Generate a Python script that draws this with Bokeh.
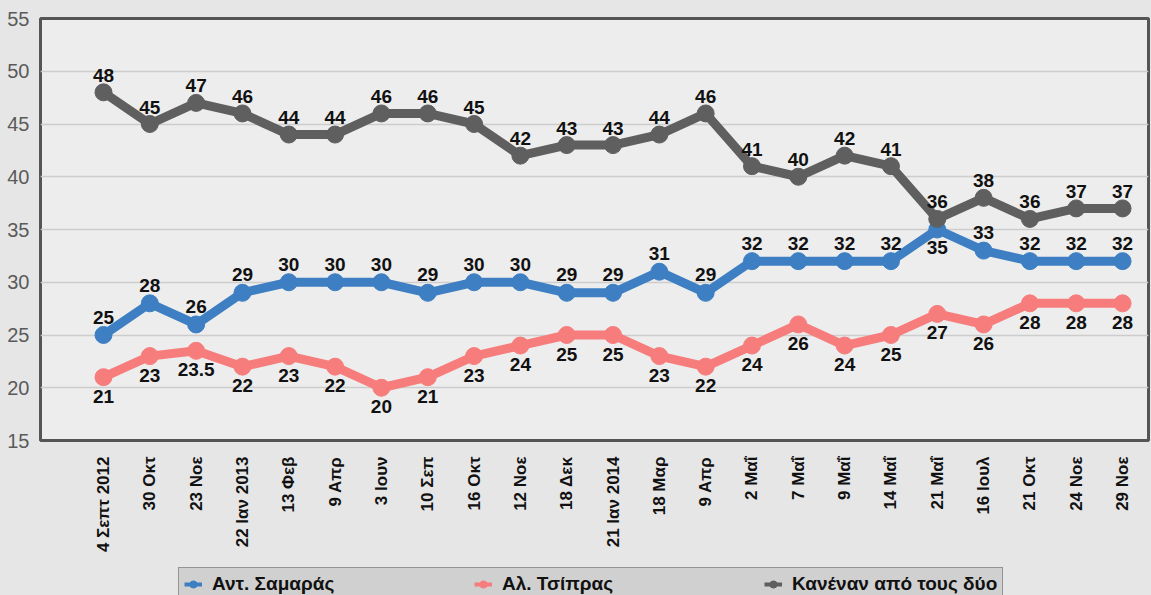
from bokeh.plotting import figure
from bokeh.layouts import column
from bokeh.models import (ColumnDataSource, Range1d, FixedTicker, Legend, LegendItem)
from bokeh.core.properties import value
from bokeh.embed import file_html
from bokeh.resources import INLINE
import math

categories = ["4 Σεπτ 2012", "30 Οκτ", "23 Νοε", "22 Ιαν 2013", "13 Φεβ", "9 Απρ",
              "3 Ιουν", "10 Σεπ", "16 Οκτ", "12 Νοε", "18 Δεκ", "21 Ιαν 2014",
              "18 Μαρ", "9 Απρ", "2 Μαΐ", "7 Μαΐ", "9 Μαΐ", "14 Μαΐ", "21 Μαΐ",
              "16 Ιουλ", "21 Οκτ", "24 Νοε", "29 Νοε"]
samaras = [25, 28, 26, 29, 30, 30, 30, 29, 30, 30, 29, 29, 31, 29, 32, 32, 32, 32, 35, 33, 32, 32, 32]
tsipras = [21, 23, 23.5, 22, 23, 22, 20, 21, 23, 24, 25, 25, 23, 22, 24, 26, 24, 25, 27, 26, 28, 28, 28]
kanenan = [48, 45, 47, 46, 44, 44, 46, 46, 45, 42, 43, 43, 44, 46, 41, 40, 42, 41, 36, 38, 36, 37, 37]
series_names = ["Αντ. Σαμαράς", "Αλ. Τσίπρας", "Κανέναν από τους δύο"]
y_ticks = [15, 20, 25, 30, 35, 40, 45, 50, 55]

FONT = value("Liberation Sans")
BG = "#e6e6e6"
xs = list(range(len(categories)))

p = figure(width=1151, height=555, output_backend="svg", toolbar_location=None,
           x_range=Range1d(-1.36, 22.56), y_range=Range1d(15, 55),
           min_border_left=40, min_border_top=18, min_border_right=3,
           min_border_bottom=112)
p.background_fill_color = "#ededed"
p.border_fill_color = BG
p.outline_line_color = "#555555"
p.outline_line_width = 3

p.xgrid.grid_line_color = None
p.ygrid.grid_line_color = "#cdcdcd"
p.ygrid.grid_line_width = 1.5

p.yaxis.ticker = FixedTicker(ticks=y_ticks)
p.yaxis.major_label_text_font = "Liberation Sans"
p.yaxis.major_label_text_font_size = "20px"
p.yaxis.major_label_text_color = "#5a5a5a"
p.yaxis.axis_line_color = None
p.yaxis.major_tick_line_color = None
p.yaxis.minor_tick_line_color = None
p.yaxis.major_label_standoff = 5

p.xaxis.ticker = FixedTicker(ticks=xs)
p.xaxis.major_label_overrides = {i: c for i, c in enumerate(categories)}
p.xaxis.major_label_orientation = math.pi / 2
p.xaxis.major_label_text_font = "Liberation Sans"
p.xaxis.major_label_text_font_style = "bold"
p.xaxis.major_label_text_font_size = "17px"
p.xaxis.major_label_text_color = "#111111"
p.xaxis.axis_line_color = None
p.xaxis.major_tick_line_color = None
p.xaxis.minor_tick_line_color = None
p.xaxis.major_label_standoff = 10

colors = ["#3d7fc2", "#f77d7d", "#5f5f5f"]
data = [samaras, tsipras, kanenan]

# label placement: blue above (below when the grey point is too close), red below, grey above
off_blue = [18 if abs(k - s) < 2 else -18 for s, k in zip(samaras, kanenan)]
off_red = [19] * len(xs)
off_grey = [-17] * len(xs)
offsets = [off_blue, off_red, off_grey]

srcs = []
for name, vals, col, offs in zip(series_names, data, colors, offsets):
    src = ColumnDataSource(dict(x=xs, y=vals, lbl=[f"{v:g}" for v in vals], off=offs))
    p.line("x", "y", source=src, line_color=col, line_width=9, line_join="round")
    p.scatter("x", "y", source=src, size=17, fill_color=col, line_color=col)
    srcs.append(src)

for src in srcs:
    p.text("x", "y", text="lbl", source=src, text_font=FONT, text_font_style="bold",
           text_font_size="19px", text_align="center", text_baseline="middle",
           y_offset="off", text_color="#111111")

# legend strip below the chart
p2 = figure(width=1151, height=40, output_backend="svg", toolbar_location=None,
            x_range=Range1d(0, 1), y_range=Range1d(0, 1),
            x_axis_location=None, y_axis_location=None,
            min_border_left=40, min_border_right=3, min_border_top=0, min_border_bottom=0)
p2.background_fill_color = BG
p2.border_fill_color = BG
p2.outline_line_color = None
p2.xgrid.grid_line_color = None
p2.ygrid.grid_line_color = None

items = []
for name, col in zip(series_names, colors):
    l = p2.line(x=[-10, -9], y=[-10, -10], line_color=col, line_width=4)
    c = p2.scatter(x=[-10], y=[-10], size=9, fill_color=col, line_color=col)
    items.append(LegendItem(label=name, renderers=[l, c]))

legend = Legend(items=items, orientation="horizontal", location=(138, -6))
legend.label_text_font = "Liberation Sans"
legend.label_text_font_style = "bold"
legend.label_text_font_size = "19px"
legend.label_text_color = "#111111"
legend.label_width = 205
legend.glyph_width = 18
legend.glyph_height = 18
legend.label_height = 18
legend.label_standoff = 10
legend.spacing = 57
legend.padding = 5
legend.margin = 0
legend.background_fill_color = "#d0d0d0"
legend.background_fill_alpha = 1
legend.border_line_color = "#555555"
legend.border_line_width = 1.5
p2.add_layout(legend)

layout = column(p, p2, spacing=0, styles={"background-color": BG})
open("out.html", "w").write(file_html(layout, INLINE))
